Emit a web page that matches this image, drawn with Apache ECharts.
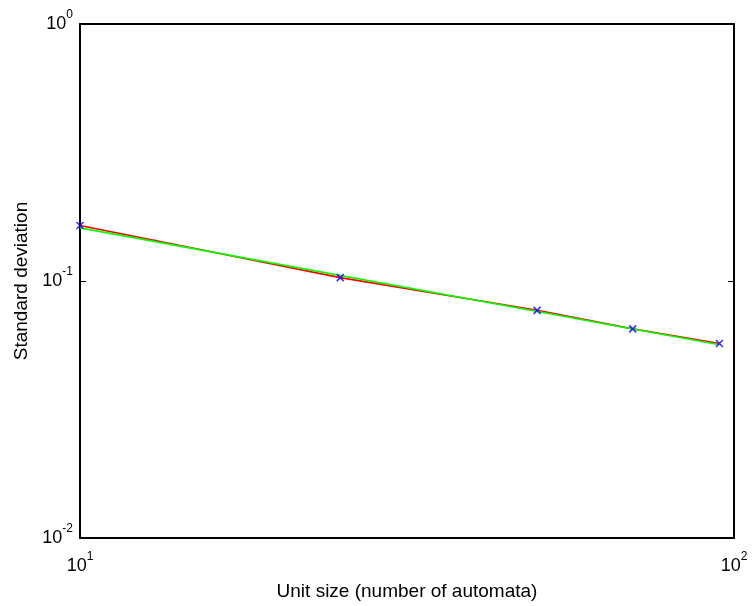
<!DOCTYPE html>
<html>
<head>
<meta charset="utf-8">
<script src="https://cdn.jsdelivr.net/npm/echarts@6/dist/echarts.min.js"></script>
<style>
html,body{margin:0;padding:0;background:#fff;}
#chart{width:753px;height:606px;}
</style>
</head>
<body>
<div id="chart"></div>
<script>
// Data
const unitSizes = [10, 25, 50, 70, 95];
const stdDeviation = [0.1644, 0.1031, 0.0769, 0.0651, 0.0571];
const fitX = [10, 95];
const fitY = [0.161, 0.0565];
const xRange = [10, 100];
const yRange = [0.01, 1];
const xTitle = 'Unit size (number of automata)';
const yTitle = 'Standard deviation';

const FONT = '"Liberation Sans", Arial, sans-serif';
function pair(xs, ys) { return xs.map((x, i) => [x, ys[i]]); }
function powLabel(v) {
  const e = Math.round(Math.log10(v));
  return '{b|10}{s|' + e + '}';
}
const rich = {
  b: { fontSize: 18, fontFamily: FONT, color: '#000' },
  s: { fontSize: 12, fontFamily: FONT, color: '#000', padding: [0, 0, 19, 0] }
};
const lineStyle = { color: '#000', width: 2 };
const tick = { show: true, inside: true, length: 6, lineStyle: { color: '#000', width: 1 } };

const chart = echarts.init(document.getElementById('chart'));
chart.setOption({
  animation: false,
  backgroundColor: '#fff',
  grid: { left: 80, right: 19, top: 24, bottom: 65, containLabel: false },
  xAxis: [
    {
      type: 'log', logBase: 10, min: xRange[0], max: xRange[1], position: 'bottom',
      name: xTitle, nameLocation: 'middle', nameGap: 44,
      nameTextStyle: { fontSize: 19, fontFamily: FONT, color: '#000' },
      axisLine: { show: true, lineStyle },
      axisTick: tick,
      minorTick: { show: false },
      splitLine: { show: false },
      axisLabel: { formatter: powLabel, rich, margin: 13 }
    },
    {
      type: 'log', logBase: 10, min: xRange[0], max: xRange[1], position: 'top',
      axisLine: { show: true, lineStyle },
      axisTick: tick,
      splitLine: { show: false },
      axisLabel: { show: false }
    }
  ],
  yAxis: [
    {
      type: 'log', logBase: 10, min: yRange[0], max: yRange[1], position: 'left',
      name: yTitle, nameLocation: 'middle', nameGap: 45, nameRotate: 90,
      nameTextStyle: { fontSize: 19, fontFamily: FONT, color: '#000' },
      axisLine: { show: true, lineStyle },
      axisTick: tick,
      splitLine: { show: false },
      axisLabel: { formatter: powLabel, rich, margin: 7 }
    },
    {
      type: 'log', logBase: 10, min: yRange[0], max: yRange[1], position: 'right',
      axisLine: { show: true, lineStyle },
      axisTick: tick,
      splitLine: { show: false },
      axisLabel: { show: false }
    }
  ],
  series: [
    {
      type: 'line', data: pair(unitSizes, stdDeviation), xAxisIndex: 0, yAxisIndex: 0,
      symbol: 'none', lineStyle: { color: '#ff0000', width: 1.6 }, z: 2
    },
    {
      type: 'line', data: pair(fitX, fitY), xAxisIndex: 0, yAxisIndex: 0,
      symbol: 'none', lineStyle: { color: '#00ff00', width: 1.6 }, z: 3
    },
    {
      type: 'scatter', data: pair(unitSizes, stdDeviation), xAxisIndex: 0, yAxisIndex: 0,
      symbol: 'path://M0,0L10,10M10,0L0,10', symbolSize: 7,
      itemStyle: { color: 'rgba(0,0,0,0)', borderColor: '#0000ff', borderWidth: 1.6 }, z: 4
    }
  ]
});
</script>
</body>
</html>
